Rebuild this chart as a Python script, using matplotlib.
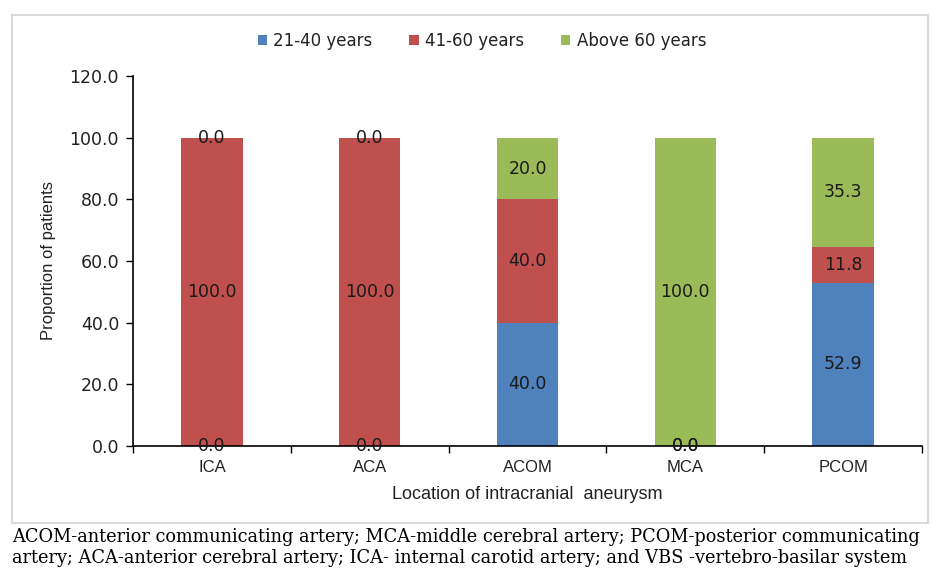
import numpy as np
import matplotlib
matplotlib.use('Agg')
import matplotlib.pyplot as plt
from matplotlib.patches import Rectangle

# du lieu doc tu hinh
locations = ['ICA', 'ACA', 'ACOM', 'MCA', 'PCOM']
age_21_40 = [0.0, 0.0, 40.0, 0.0, 52.9]
age_41_60 = [100.0, 100.0, 40.0, 0.0, 11.8]
age_above_60 = [0.0, 0.0, 20.0, 100.0, 35.3]
series_names = ['21-40 years', '41-60 years', 'Above 60 years']
y_ticks = [0, 20, 40, 60, 80, 100, 120]
caption_lines = [
    'ACOM-anterior communicating artery; MCA-middle cerebral artery; PCOM-posterior communicating',
    'artery; ACA-anterior cerebral artery; ICA- internal carotid artery; and VBS -vertebro-basilar system',
]

colors = ['#4F81BD', '#C0504D', '#9BBB59']
W, H = 932, 569

fig = plt.figure(figsize=(W / 100, H / 100), dpi=100)
fig.patch.set_facecolor('white')

# khung vien ngoai cua chart
fig.patches.append(Rectangle((12 / W, 1 - 523 / H), (928 - 12) / W, (523 - 15) / H,
                             transform=fig.transFigure, fill=False,
                             edgecolor='#D9D9D9', linewidth=1.5))

ax = fig.add_axes([133 / W, 1 - 446 / H, (922 - 133) / W, (446 - 76) / H])

x = np.arange(len(locations))
bottom = np.zeros(len(locations))
containers = []
for vals, name, c in zip([age_21_40, age_41_60, age_above_60], series_names, colors):
    bars = ax.bar(x, vals, width=0.39, bottom=bottom, color=c, label=name, zorder=2)
    containers.append(bars)
    bottom = bottom + np.array(vals)

for bars in containers:
    ax.bar_label(bars, fmt='%.1f', label_type='center', fontsize=12.5,
                 family='DejaVu Sans', color='#1a1a1a')

ax.set_xlim(-0.5, len(locations) - 0.5)
ax.set_ylim(0, 120)
ax.set_yticks(y_ticks)
ax.set_yticklabels([f'{v:.1f}' for v in y_ticks], family='DejaVu Sans', fontsize=12.5, color='#222222')

# tick o ranh gioi, nhan o giua
ax.set_xticks(np.arange(len(locations) + 1) - 0.5)
ax.set_xticklabels([])
ax.set_xticks(x, minor=True)
ax.set_xticklabels(locations, minor=True, family='Liberation Sans', fontsize=12, color='#222222')
ax.tick_params(axis='x', which='minor', length=0, pad=10)
ax.tick_params(axis='x', which='major', length=5, direction='out', width=1)
ax.tick_params(axis='y', length=5, direction='out', width=1, pad=5)

for s in ['top', 'right']:
    ax.spines[s].set_visible(False)
for s in ['left', 'bottom']:
    ax.spines[s].set_linewidth(1.2)
    ax.spines[s].set_color('black')

ax.set_xlabel('Location of intracranial  aneurysm', family='Liberation Sans', fontsize=13,
              color='#222222', labelpad=8)
ax.set_ylabel('Proportion of patients', family='Liberation Sans', fontsize=12,
              color='#222222', labelpad=10)

leg = fig.legend(loc='center', bbox_to_anchor=(482 / W, 1 - 41 / H), ncol=3, frameon=False,
                 prop={'family': 'DejaVu Sans', 'size': 12}, handlelength=0.55,
                 handleheight=0.55, handletextpad=0.4, columnspacing=2.2)
for t in leg.get_texts():
    t.set_color('#222222')

# chu thich duoi chart, keo gian cho vua be rong
fig.canvas.draw()
renderer = fig.canvas.get_renderer()
target_w = 922 - 12
for i, line in enumerate(caption_lines):
    t = fig.text(12 / W, 1 - (537 + 21 * i) / H, line, family='DejaVu Serif', fontsize=13,
                 va='center', ha='left', color='black')
    if i == 0:
        w = t.get_window_extent(renderer).width
        t.set_fontsize(13 * target_w / w)
        cap_size = t.get_fontsize()
    else:
        t.set_fontsize(cap_size)

fig.savefig('out.png', dpi=100)
